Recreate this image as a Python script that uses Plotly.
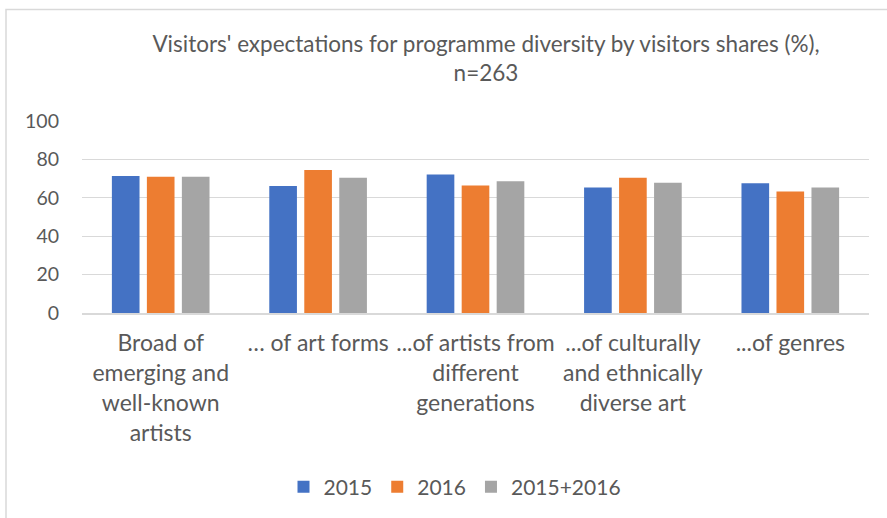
import plotly.graph_objects as go

# Survey categories (line breaks as shown under the axis)
categories = [
    "Broad of<br>emerging and<br>well-known<br>artists",
    "… of art forms",
    "...of artists from<br>different<br>generations",
    "...of culturally<br>and ethnically<br>diverse art",
    "...of genres",
]
series_names = ["2015", "2016", "2015+2016"]
values_2015 = [71.4, 66.1, 72.1, 65.3, 67.6]
values_2016 = [70.9, 74.5, 66.4, 70.4, 63.3]
values_both = [70.9, 70.5, 68.6, 67.9, 65.3]
y_ticks = [0, 20, 40, 60, 80, 100]

colors = ["#4472C4", "#ED7D31", "#A5A5A5"]
text_color = "#595959"
font_family = "Lato, 'Open Sans', sans-serif"

W, H = 887, 518
ml, mr, mt, mb = 82, 18, 121, 204
pw, ph = W - ml - mr, H - mt - mb

fig = go.Figure()
for name, vals, col in zip(series_names, [values_2015, values_2016, values_both], colors):
    fig.add_trace(go.Bar(name=name, x=categories, y=vals, marker=dict(color=col, line=dict(width=0))))

# Outer chart border (light grey frame)
def px_x(x):
    return (x - ml) / pw

def px_y(y):
    return (H - mb - y) / ph

fig.add_shape(type="rect", xref="paper", yref="paper",
              x0=px_x(6), x1=px_x(W + 20), y0=px_y(H + 20), y1=px_y(9),
              line=dict(color="#D9D9D9", width=1.5), fillcolor="rgba(0,0,0,0)", layer="below")

fig.update_layout(
    width=W, height=H,
    margin=dict(l=ml, r=mr, t=mt, b=mb),
    paper_bgcolor="white", plot_bgcolor="white",
    font=dict(family=font_family, color=text_color, size=19),
    barmode="group", bargap=0.333, bargroupgap=0.21,
    title=dict(
        text="Visitors' expectations for programme diversity by visitors shares (%),<br>n=263",
        x=px_x(486), xanchor="center", xref="paper",
        y=1 - 52 / H, yanchor="middle", yref="container",
        font=dict(size=22.5, color=text_color, family=font_family),
    ),
    legend=dict(orientation="h", x=px_x(455), xanchor="center", y=px_y(487), yanchor="middle",
                font=dict(size=21, color=text_color), itemwidth=30, traceorder="normal"),
    xaxis=dict(showgrid=False, showline=True, linecolor="#D9D9D9", linewidth=1.5,
               ticks="", tickfont=dict(size=23, color=text_color), tickangle=0,
               ticklabelstandoff=9),
    yaxis=dict(range=[0, 100], tickvals=y_ticks, showgrid=True, gridcolor="#D9D9D9", gridwidth=1.2,
               zeroline=False, showline=False, ticks="", ticklen=0, ticklabelstandoff=22,
               tickfont=dict(size=19.5, color=text_color)),
)

fig.write_html("out.html")
